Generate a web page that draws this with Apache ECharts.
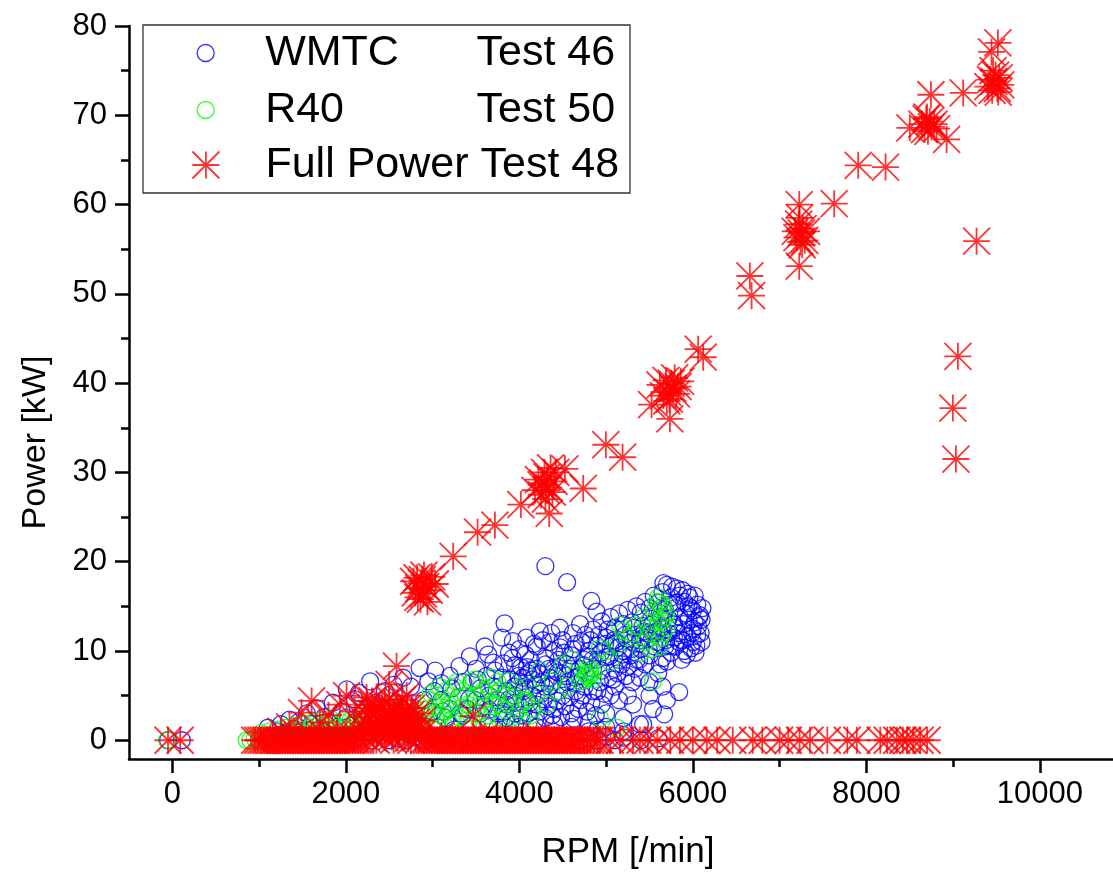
<!DOCTYPE html>
<html><head><meta charset="utf-8">
<script src="https://cdn.jsdelivr.net/npm/echarts@6/dist/echarts.min.js"></script>
<style>html,body{margin:0;padding:0;background:#fff}#c{width:1113px;height:875px}</style>
</head><body><div id="c"></div>
<script>
const xTicks = [0, 2000, 4000, 6000, 8000, 10000];
const xMinorTicks = [1000, 3000, 5000, 7000, 9000];
const yTicks = [0, 10, 20, 30, 40, 50, 60, 70, 80];
const yMinorTicks = [5, 15, 25, 35, 45, 55, 65, 75];
const seriesNames = ['WMTC', 'R40', 'Full Power'];
const legendTests = ['Test 46', 'Test 50', 'Test 48'];

const wmtc = [
[-50,0],[110,0],[1000,0],[1100,0.3],[1200,0],[1300,0.5],[1400,0.2],[1500,0],[1600,0.4],[1700,0],[1800,0.3],[1900,0],[2000,0.5],[2100,0],[2200,0.3],[2300,0],[2400,0.6],[2500,0],[2600,0.2],[2700,0],[2800,0.4],[2900,0],[3000,0.3],[3100,0],[3200,0.5],[3300,0],[3400,0.2],[3500,0],[3600,0.4],[3700,0],[3800,0.3],[3900,0],[4000,0.5],[4100,0],[4200,0.2],[4300,0],[4400,0.4],[4500,0],[4600,0.3],[4700,0],[4800,0.2],[4900,0],[5000,0.4],[5100,0],[5200,0.3],[5400,0],[5600,0.2],
[1100,1.4],[1250,1.8],[1350,2.3],[1450,2.0],[1550,3.0],[1660,3.6],[1750,2.6],[1850,4.2],[1950,3.2],[2010,5.7],[2100,4.6],[2150,5.3],[2280,6.6],[2350,4.2],[2450,5.5],[2550,6.2],[2660,7.0],[2750,6.0],[2850,8.1],[2950,6.6],[3030,7.8],[3100,6.4],[3200,7.2],[3310,8.3],[3430,9.4],[3350,6.5],[3500,8.0],[3600,10.5],[3640,9.6],[3700,8.7],[3800,11.5],[3830,13.1],[3925,11.1],[3880,9.8],[3950,8.4],[4000,10.2],[4080,11.5],[4130,9.0],[4236,12.2],[4300,19.5],[4200,10.5],[4300,9.2],[4350,11.0],[4467,12.6],[4400,10.0],[4550,17.7],[4617,12.0],[4500,11.2],[4650,10.8],[4700,13.0],[4760,11.8],[4830,15.6],[4890,14.4],[4850,12.4],[4950,13.3],[5000,11.5],[5050,13.8],[5100,12.6],[5150,14.2],[5200,13.0],[5250,14.6],[5300,13.2],[5350,15.0],[5400,14.3],[5450,15.5],[5500,14.8],[5550,16.2],[5600,15.4],[5650,16.6],[5700,17.4],[5812,17.0],[5750,16.0],[5850,16.2],[5900,15.5],[5950,15.0],[6000,14.5],[6050,15.2],[6080,14.0],[6100,13.5],[6060,12.8],[6000,12.5],[5950,13.5],[5900,12.2],[5850,13.8],[5800,14.8],[5780,11.5],[5720,12.0],[5680,10.5],[5650,9.2],[5700,8.8],[5750,9.8],[5800,10.5],[5900,10.0],[6000,11.0],[6050,11.8],[5560,10.5],[5500,9.5],[5450,8.5],[5400,10.2],[5350,9.0],[5300,11.0],[5250,8.2],[5200,10.0],[5150,9.0],[5100,8.0],[5050,10.5],[5000,9.3],[4950,7.8],[4900,9.0],[4850,8.0],[4800,10.0],[4750,9.0],[4700,8.0],[4650,7.0],[4600,9.5],[4550,8.5],[4500,7.5],[4450,9.0],[4400,8.0],[4350,7.0],[4300,8.5],[4250,6.5],[4200,8.0],[4150,6.8],[4100,7.5],[4050,5.5],[4000,6.5],[3950,5.0],[3900,6.8],[3850,5.5],[3800,7.0],[3750,4.5],[3700,6.0],[3650,5.0],[3600,3.8],[3550,5.8],[3500,4.5],[3450,6.5],[3400,3.5],[3300,4.8],[3200,3.5],[3100,4.5],[3000,3.2],[2900,4.5],[2800,2.8],[2700,4.0],[2600,3.0],[2500,2.0],[2400,3.5],[2300,2.2],[2200,3.0],[2100,1.8],[2000,2.5],[1900,1.5],[1800,2.0],[1700,1.2],[1600,1.8],[1500,1.0],[1400,1.3],[1300,0.8],[1200,1.0],
[4100,3.0],[4200,4.0],[4300,2.5],[4400,3.5],[4500,5.0],[4600,3.0],[4700,4.5],[4800,2.0],[4900,5.5],[5000,3.0],[5100,6.0],[5200,2.5],[5310,4.0],[5389,7.0],[5389,1.8],[5427,1.8],[5500,5.0],[5540,3.5],[5669,2.9],[5842,5.4],[5600,7.5],[5650,6.0],[5700,4.5],[5500,6.5],[5300,6.5],[5250,5.0],[5150,4.5],[5050,5.0],[4950,4.0],[4850,5.5],[4750,6.0],[4650,5.5],[4550,6.5],[4450,5.5],[4350,6.0],[4250,5.2],[4150,5.0],[4050,4.0],[3950,3.0],[3850,2.5],[3750,3.0],[3650,2.0],[4000,1.5],[4200,1.5],[4400,1.8],[4600,1.5],[4800,1.0],[5000,1.5],[5200,1.0],[4900,1.2],
[3900,2.0],[3950,4.2],[4020,2.8],[4060,6.0],[4120,4.2],[4180,2.2],[4230,3.2],[4280,4.6],[4330,3.8],[4380,2.8],[4430,4.4],[4480,2.6],[4530,3.8],[4580,4.8],[4630,2.4],[4680,3.5],[4730,5.0],[4780,3.2],[4830,4.2],[4880,2.8],[4930,6.5],[4980,5.2],[5030,7.0],[5080,6.8],[5130,7.5],[5180,8.5],[5230,7.2],[5280,9.5],[5330,8.0],[5380,9.0],[5430,11.5],[5480,12.0],[5530,13.0],[5580,12.2],[5630,13.8],[5680,14.6],[5730,15.2],[5780,13.0],[5830,12.0],[5880,11.2],[5930,9.6],[5980,10.3],[6030,9.8],[6090,12.0],[6110,14.8],[5960,16.0],[6020,16.2],[5870,9.0],[5620,8.5],
[3050,1.5],[3150,2.5],[3250,1.2],[3350,2.8],[3450,1.6],[3550,3.0],[3650,3.4],[3750,1.4],[3850,4.0],[3950,1.8],[3020,5.5],[3120,3.2],[3220,5.8],[3320,3.0],[3420,4.6],[3520,6.8],[3620,7.2],[3720,7.8],[3820,8.6],[3920,9.2],[4020,8.2],[4070,9.6],[4170,10.8],[4270,11.2],[4370,12.0],[4470,10.4],[4520,9.8],[4620,10.2],[4720,11.0],[4820,11.2],[4920,11.8],[5020,12.4],[5120,11.0],[5220,11.8],[5320,12.6],[5420,12.8],[5520,13.6],[5620,14.2],[5720,13.6],[5820,15.4],[5920,14.2],[6020,13.2],[6070,13.8],[5980,14.8],[5940,16.4],[5880,16.8],[5760,17.2],[5660,17.6],
[3820,3.2],[3880,4.6],[3940,6.0],[3990,7.2],[4040,7.0],[4090,8.2],[4140,7.8],[4190,6.2],[4240,7.4],[4290,6.0],[4340,8.0],[4390,6.6],[4440,7.6],[4490,6.2],[4540,7.2],[4590,8.0],[4640,6.4],[4690,7.2],[4740,8.4],[4790,9.4],[4840,9.0],[4890,10.6],[4940,9.8],[4990,10.8],[5040,9.4],[5090,11.2],[5140,10.4],[5190,9.6],[5240,11.4],[5290,10.2],[5340,11.8],[5390,11.2],[5440,12.2],[5490,11.4],[5540,12.0],[5590,11.0],[5640,12.6],[5690,11.2],[5740,10.6],[5790,12.6],[5840,11.0],[5890,13.0],[5940,11.6],[5990,12.0],[6040,10.6],[6100,11.0]
];

const r40 = [
[-60,0],[857,0],[900,0],[950,0.2],[1000,0],[1050,0.3],[1100,0],[1150,0.5],[1200,0.2],[1250,0.6],[1300,0.4],[1350,0.8],[1400,0.5],[1450,1.0],[1500,0.7],[1550,1.2],[1600,0.8],[1650,1.5],[1700,1.0],[1750,1.6],[1800,1.2],[1850,1.8],[1900,1.4],[1950,2.0],[2000,1.5],[2050,2.2],[2100,1.7],[2150,2.4],[2200,2.0],[2250,2.6],[2300,2.2],[2350,2.8],[2400,2.5],[2450,3.0],[2500,2.6],[2600,3.2],[2700,2.8],[2800,3.0],[2900,3.4],[2950,4.5],[3000,3.0],[3050,5.0],[3100,4.2],[3150,5.5],[3200,3.5],[3250,6.0],[3300,4.8],[3350,5.5],[3400,4.0],[3450,6.5],[3500,5.0],[3550,6.2],[3600,4.5],[3650,5.8],[3700,3.8],[3750,6.5],[3775,4.0],[3850,5.2],[3925,4.8],[4000,3.5],[3050,2.0],[3200,1.8],[3400,2.2],[3600,1.5],[3800,2.5],[3000,1.2],[3100,2.8],[3300,2.6],[3500,3.0],[3700,2.2],
[4236,7.8],[4317,4.0],[4386,6.6],[4500,8.5],[4600,9.0],[4697,6.6],[4750,7.5],[4775,7.4],[4800,7.0],[4813,7.8],[4850,6.8],[4800,8.2],[4750,6.8],[4850,7.6],[4780,7.2],[4820,7.4],[4928,10.3],[4928,2.5],[5124,1.4],[5135,10.7],[5159,12.9],[5250,11.5],[5300,12.0],[5427,13.7],[5450,11.0],[5500,12.5],[5540,6.6],[5550,14.5],[5600,13.2],[5620,11.4],[5640,14.8],[5657,15.1],[5680,13.8],[5700,12.6],[5660,12.0],[5620,10.5],[5580,15.5],[5600,16.0],[4450,5.5],[4550,6.0],[4200,5.2],[4100,6.0],[4050,4.5],[4150,3.5],
[1020,0.8],[1120,1.0],[1220,1.2],[1320,1.4],[1420,1.6],[1520,1.8],[1620,2.0],[1720,2.2],[1820,2.4],[1920,0.5],[2020,0.7],[2120,0.9],[2220,1.1],[2320,1.3],[2420,1.5],[2520,1.7],[2620,2.0],[2720,1.5],[2820,2.2],[2920,2.6],[2980,5.2],[3080,6.0],[3180,4.0],[3280,6.5],[3380,5.0],[3480,6.8],[3580,5.5],[3680,7.0],[3780,5.6],[3880,6.6],[3980,5.8],[4080,4.4],[3030,3.8],[3130,3.2],[3230,2.4],[3330,3.6],[3430,3.0],[3530,3.8],[3630,2.8],[3730,4.6],[3830,3.4],[3930,2.6],[4030,2.2],[4130,2.8],
[5200,12.2],[5350,12.8],[5480,13.2],[5560,11.8],[5640,13.4],[5690,14.2],[5610,15.4],[5520,10.2],[5400,9.8],[5000,10.0],[5050,8.8]
];

const fullPower = [
[-50,0],[90,0],[950,0],[1020,0],[1080,0],[1150,0],[1210,0],[1270,0],[1330,0],[1390,0],[1450,0],[1510,0],[1570,0],[1630,0],[1690,0],[1750,0],[1810,0],[1870,0],[1930,0],[1990,0],[2050,0],[2110,0],[2170,0],[1300,0.6],[1600,0.5],[1900,0.8],[2000,0.4],
[985,0],[1050,0],[1115,0],[1180,0],[1240,0],[1300,0],[1360,0],[1420,0],[1480,0],[1540,0],[1600,0],[1660,0],[1720,0],[1780,0],[1840,0],[1900,0],[1960,0],[2020,0],[2080,0],[2140,0],
[2900,0],[2960,0],[3020,0],[3080,0],[3140,0],[3200,0],[3260,0],[3320,0],[3380,0],[3440,0],[3500,0],[3560,0],[3620,0],[3680,0],[3740,0],[3800,0],[3860,0],[3920,0],[3980,0],[4040,0],[4100,0],[4160,0],[4220,0],[4280,0],[4340,0],[4400,0],[4460,0],[4520,0],[4580,0],[4640,0],[4700,0],[4780,0],[4860,0],[4930,0],[5050,0],[5160,0],[5310,0],[5390,0],[5480,0],[5590,0],[5740,0],[5850,0],[6000,0],[6160,0],[6280,0],[6460,0],[6690,0],[6800,0],[7000,0],[7100,0],[7230,0],[7350,0],[7550,0],[7780,0],[7890,0],[8160,0],[8240,0],[8350,0],[8420,0],[8470,0],[8540,0],[8620,0],[8700,0],[3100,0.5],[3600,0.4],[4200,0.5],
[2930,0],[2990,0],[3050,0],[3110,0],[3170,0],[3230,0],[3290,0],[3350,0],[3410,0],[3470,0],[3530,0],[3590,0],[3650,0],[3710,0],[3770,0],[3830,0],[3890,0],[3950,0],[4010,0],[4070,0],[4130,0],[4190,0],[4250,0],[4310,0],[4370,0],[4430,0],[4490,0],[4550,0],[4610,0],[4670,0],[4740,0],[4820,0],[4900,0],
[2200,0.5],[2230,2.0],[2260,1.0],[2290,3.0],[2320,0.2],[2350,1.8],[2380,3.5],[2410,0.8],[2440,2.5],[2470,1.2],[2500,3.2],[2530,0.4],[2560,2.2],[2590,4.0],[2620,1.0],[2650,2.8],[2680,0.6],[2710,3.6],[2740,1.5],[2770,2.4],[2800,0.3],[2830,3.0],[2850,1.2],[2250,4.0],[2450,4.2],[2650,4.5],[2350,0],[2550,0],[2750,0],
[2180,1.5],[2210,3.2],[2240,0.2],[2270,2.6],[2300,1.4],[2330,3.6],[2360,0.9],[2390,2.2],[2420,3.8],[2450,0.3],[2480,1.9],[2510,2.6],[2540,1.4],[2570,3.4],[2600,0.7],[2630,2.0],[2660,3.2],[2690,1.7],[2720,0.2],[2750,2.9],[2780,1.0],[2810,2.0],[2840,0.1],[2870,0.6],[2880,2.2],[2220,1.1],[2400,1.3],[2580,1.1],[2760,3.6],[2300,4.4],[2500,4.6],[2700,5.0],
[1250,1.0],[1350,1.5],[1489,3.1],[1605,4.4],[1700,2.0],[1800,2.8],[1931,4.0],[2008,5.0],[2100,3.2],[2238,4.8],[2499,6.25],[2584,8.3],[3468,2.7],
[2780,17.8],[2800,16.5],[2820,18.2],[2840,17.0],[2860,15.8],[2870,17.6],[2890,16.4],[2900,18.5],[2920,17.2],[2940,15.5],[2960,16.8],[2990,18.3],[3030,17.5],[2830,16.0],[2880,18.0],
[3237,20.6],[3518,23.3],[3718,24.1],[4017,26.4],
[4180,28.0],[4220,29.2],[4250,27.5],[4270,28.8],[4290,30.0],[4300,27.0],[4320,29.5],[4340,28.3],[4360,30.5],[4380,27.8],[4400,29.0],[4250,28.6],[4310,28.0],[4344,25.4],[4420,30.0],
[4525,30.4],[4736,28.2],[4997,33.1],[5190,31.7],[5524,37.6],
[5620,39.8],[5660,38.6],[5690,40.3],[5710,39.0],[5730,38.2],[5750,40.0],[5770,39.4],[5790,40.6],[5810,38.8],[5830,39.6],[5860,40.2],[5700,38.0],[5735,36.0],
[6061,43.8],[6119,42.9],[6657,52.0],[6677,49.8],
[7226,60.0],[7180,57.0],[7200,56.3],[7220,57.8],[7240,55.8],[7250,56.8],[7270,57.3],[7290,56.0],[7310,57.0],[7230,58.5],[7260,55.5],[7226,53.1],
[7629,60.1],[7906,64.4],[8221,64.2],[8501,68.6],
[8640,69.0],[8670,68.4],[8690,69.6],[8710,68.2],[8730,69.3],[8750,68.7],[8780,69.0],[8810,68.5],[8700,69.8],
[8744,72.3],[8925,67.3],[9116,72.5],[9270,55.9],[9055,43.0],[8997,37.2],[9032,31.5],
[9400,73.2],[9430,74.0],[9450,72.8],[9470,73.8],[9490,74.5],[9510,73.0],[9530,74.2],[9550,73.4],[9460,75.0],[9520,72.6],
[9516,78.1],[9443,77.1]
];

const FONT = 'Liberation Sans, Arial, sans-serif';
const STAR = 'path://M10 0L10 20M0 10L20 10M0 0L20 20M0 20L20 0';
const colors = ['#0000ff', '#00ff00', '#ff0000'];

const chart = echarts.init(document.getElementById('c'), null, {renderer: 'canvas'});

function legendFor(i, top, iconW, spacer) {
  return {
    data: [{name: seriesNames[i]}],
    left: 205 - iconW / 2, top: top, padding: 0,
    itemWidth: iconW, itemHeight: iconW,
    selectedMode: false, z: 10,
    itemStyle: {color: 'rgba(0,0,0,0)', borderColor: colors[i], borderWidth: i === 2 ? 1.8 : 1.3},
    formatter: function (name) {
      if (i === 2) return '{s|\u00a0}{c|Full Power Test 48}';
      return '{s|\u00a0}{a|' + name + '}{b|' + legendTests[i] + '}';
    },
    textStyle: {
      fontFamily: FONT, fontSize: 43, color: '#000', lineHeight: 46,
      rich: {
        s: {width: spacer, fontSize: 43, lineHeight: 46},
        a: {width: 190, fontFamily: FONT, fontSize: 43, lineHeight: 46, color: '#000'},
        b: {width: 160, align: 'right', fontFamily: FONT, fontSize: 43, lineHeight: 46, color: '#000'},
        c: {fontFamily: FONT, fontSize: 43, lineHeight: 46, color: '#000'}
      }
    }
  };
}

const plain = function (v) { return String(v); };

const option = {
  backgroundColor: '#fff',
  animation: false,
  grid: {left: 129, right: 0, top: 26, bottom: 113},
  graphic: [{
    type: 'rect', z: 5,
    shape: {x: 143, y: 25, width: 487, height: 168},
    style: {fill: '#fff', stroke: '#333', lineWidth: 1.3}
  }],
  legend: [
    legendFor(0, 30, 17, 46),
    legendFor(1, 87, 17, 46),
    legendFor(2, 142, 27, 41)
  ],
  xAxis: [{
    type: 'value', min: -500, max: 10843,
    name: 'RPM [/min]', nameLocation: 'middle', nameGap: 76,
    nameTextStyle: {fontFamily: FONT, fontSize: 35, color: '#000', padding: [0, 0, 0, 14]},
    axisLine: {show: true, onZero: false, lineStyle: {color: '#000', width: 2.5}},
    axisTick: {show: true, length: 14, lineStyle: {color: '#000', width: 2.5}, customValues: xTicks},
    axisLabel: {fontFamily: FONT, fontSize: 31, color: '#000', margin: 20, customValues: xTicks, formatter: plain},
    splitLine: {show: false}
  }, {
    type: 'value', min: -500, max: 10843, position: 'bottom',
    axisLine: {show: false, onZero: false},
    axisTick: {show: true, length: 8, lineStyle: {color: '#000', width: 2.5}, customValues: xMinorTicks},
    axisLabel: {show: false},
    splitLine: {show: false}
  }],
  yAxis: [{
    type: 'value', min: -2.1, max: 80,
    name: 'Power [kW]', nameLocation: 'middle', nameGap: 76,
    nameTextStyle: {fontFamily: FONT, fontSize: 34, color: '#000', padding: [0, 100, 0, 0]},
    axisLine: {show: true, onZero: false, lineStyle: {color: '#000', width: 2.5}},
    axisTick: {show: true, length: 14, lineStyle: {color: '#000', width: 2.5}, customValues: yTicks},
    axisLabel: {fontFamily: FONT, fontSize: 31, color: '#000', margin: 22, customValues: yTicks, formatter: plain},
    splitLine: {show: false}
  }, {
    type: 'value', min: -2.1, max: 80, position: 'left',
    axisLine: {show: false, onZero: false},
    axisTick: {show: true, length: 8, lineStyle: {color: '#000', width: 2.5}, customValues: yMinorTicks},
    axisLabel: {show: false},
    splitLine: {show: false}
  }],
  series: [{
    name: seriesNames[0], type: 'scatter', data: wmtc, symbol: 'circle', symbolSize: 17,
    itemStyle: {color: 'rgba(0,0,0,0)', borderColor: colors[0], borderWidth: 1.3},
    emphasis: {disabled: true}, z: 2
  }, {
    name: seriesNames[1], type: 'scatter', data: r40, symbol: 'circle', symbolSize: 17,
    itemStyle: {color: 'rgba(0,0,0,0)', borderColor: colors[1], borderWidth: 1.3},
    emphasis: {disabled: true}, z: 3
  }, {
    name: seriesNames[2], type: 'scatter', data: fullPower, symbol: STAR, symbolSize: 27,
    itemStyle: {color: 'rgba(0,0,0,0)', borderColor: colors[2], borderWidth: 1.8},
    emphasis: {disabled: true}, z: 4
  }]
};
chart.setOption(option);
</script>
</body></html>
